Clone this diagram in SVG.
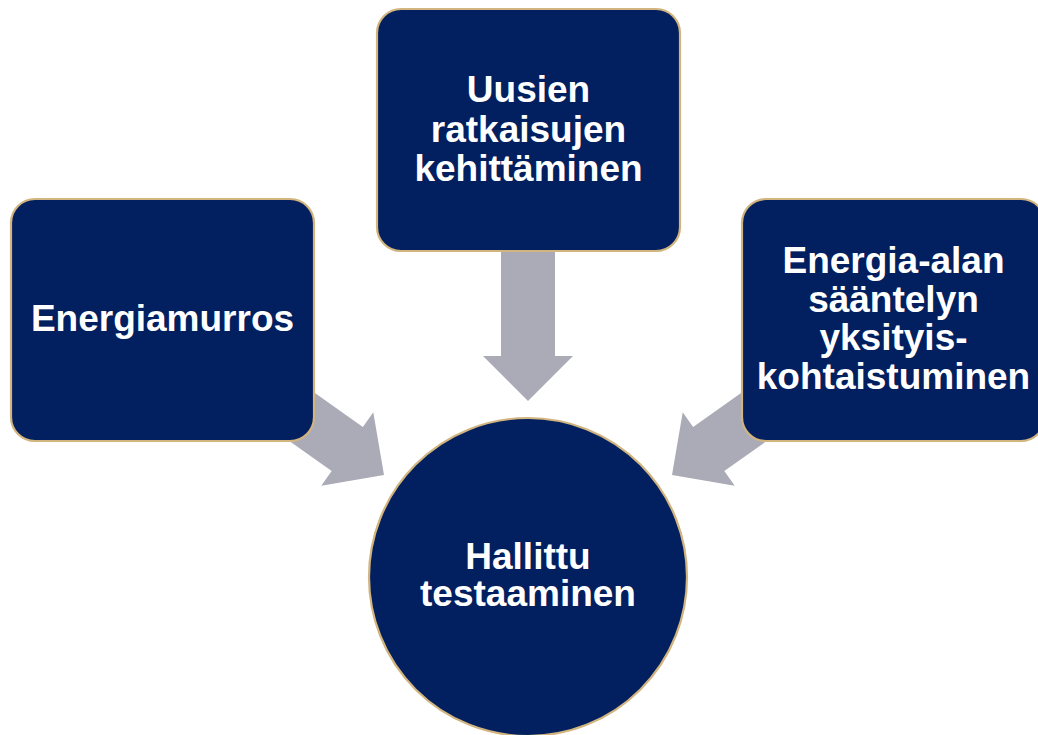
<svg xmlns="http://www.w3.org/2000/svg" width="1038" height="735" viewBox="0 0 1038 735">
<style>
.box{fill:#021F5F;stroke:#D2B47E;stroke-width:2.2}
.arrow{fill:#ABABB7}
.lbl{font-family:"Liberation Sans",Arial,sans-serif;font-weight:bold;font-size:37px;fill:#FFFFFF;text-anchor:middle}
</style>
<rect width="1038" height="735" fill="#FFFFFF"/>
<defs>
<polygon id="arr" points="0,0 -45,-45 -45,-27 -150,-27 -150,27 -45,27 -45,45"/>
</defs>
<g id="connectors">
<use href="#arr" class="arrow" transform="translate(384,475) rotate(35.3)"/>
<use href="#arr" class="arrow" transform="translate(672,475) rotate(144.7)"/>
<polygon class="arrow" points="501,240 555,240 555,356 573,356 528,401 483,356 501,356"/>
</g>
<g id="node-energiamurros">
<rect class="box" x="11" y="199" width="303" height="242" rx="24" ry="24"/>
<text class="lbl" x="162.5" y="331">Energiamurros</text>
</g>
<g id="node-uusien">
<rect class="box" x="377" y="9" width="303" height="242" rx="24" ry="24"/>
<text class="lbl" x="528.5" y="102">Uusien</text>
<text class="lbl" x="528.5" y="141.5">ratkaisujen</text>
<text class="lbl" x="528.5" y="181">kehittäminen</text>
</g>
<g id="node-saantely">
<rect class="box" x="742" y="199" width="303" height="242" rx="24" ry="24"/>
<text class="lbl" x="893.5" y="273">Energia-alan</text>
<text class="lbl" x="893.5" y="311.5">sääntelyn</text>
<text class="lbl" x="893.5" y="350">yksityis-</text>
<text class="lbl" x="893.5" y="388.5">kohtaistuminen</text>
</g>
<g id="node-hallittu">
<circle class="box" cx="528" cy="577" r="159" stroke-width="1.5"/>
<text class="lbl" x="528" y="569">Hallittu</text>
<text class="lbl" x="528" y="606">testaaminen</text>
</g>
</svg>
